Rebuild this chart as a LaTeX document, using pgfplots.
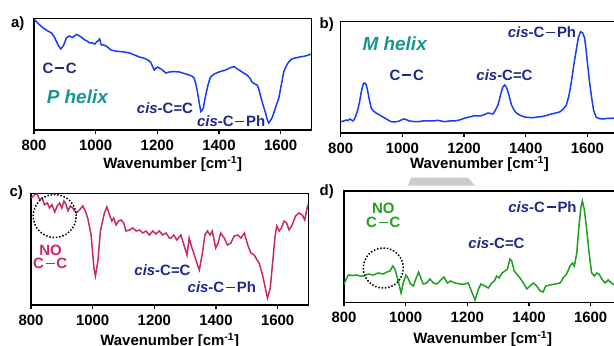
\documentclass[border=0pt]{standalone}
\usepackage{fontspec}
\setmainfont{Liberation Sans}
\usepackage{pgfplots}
\pgfplotsset{compat=1.18}
\definecolor{curveblue}{RGB}{25,60,250}
\definecolor{navy}{RGB}{30,40,140}
\definecolor{tealc}{RGB}{25,150,145}
\definecolor{crim}{RGB}{200,40,105}
\definecolor{grn}{RGB}{30,160,30}
\newcommand\lab{\fontsize{15}{18}\selectfont\bfseries}
\newcommand\bond{\kern0.12em\rule[0.3em]{0.6em}{0.1em}\kern0.12em}
\begin{document}
\begin{tikzpicture}
\pgfplotsset{
  panel/.style={
    scale only axis, anchor=south west, width=277.5bp,
    xmin=800, xmax=1700, xtick={800,1000,1200,1400,1600}, ytick=\empty,
    xtick pos=bottom, tick align=outside, major tick length=4bp,
    axis line style={line width=1.4bp, black},
    tick style={line width=1.2bp, black},
    y filter/.expression={345-y},
    every axis plot/.append style={line width=1.5bp, no markers},
    scaled x ticks=false,
    /pgf/number format/1000 sep={},
    /pgf/number format/assume math mode=true,
    xticklabel style={font=\lab, inner sep=0pt, anchor=north, yshift=-6bp},
    xlabel={Wavenumber [cm\textsuperscript{-1}]},
    xlabel style={font=\lab, inner sep=0pt, anchor=north, at={(axis description cs:0.5,0)}},
  }
}
% a)
\begin{axis}[panel, at={(34bp,215bp)}, height=111.5bp, ymin=215, ymax=326.5,
  xlabel style={yshift=-26bp}]
\addplot[curveblue] coordinates {
(800,19) (815,24) (830,28) (845,31) (857,33) (866,37) (873,41.7) (880,46) (887,49) (895,46)
(905,38) (914,36) (925,37.5) (938,34.5) (948,36) (957,38) (965,40) (972,41) (981,43)
(990,43) (997,44) (1003,42) (1007,41) (1013,39) (1018,45) (1026,45) (1034,46) (1042,48)
(1050,50) (1063,51) (1077,51.5) (1093,52) (1110,53) (1126,55) (1142,57) (1156,58)
(1169,60) (1178,62) (1190,70) (1200,67) (1212,69) (1228,73) (1239,72) (1249,71.7)
(1260,71.7) (1271,72) (1282,73) (1293,74) (1303,75) (1312,76) (1319,78) (1325,84)
(1330,92) (1336,103) (1341,111.5) (1346,110) (1349,108) (1355,98) (1362,88) (1368,81)
(1373,77) (1384,74) (1392,73) (1400,72) (1410,71) (1421,70) (1435,68) (1448,66.5)
(1460,69) (1470,71) (1480,73) (1491,75) (1500,78) (1507,82) (1516,84) (1524,85)
(1529,89) (1534,95) (1542,104) (1551,113) (1556,119) (1561,123) (1566,121) (1572,118)
(1583,108) (1594,98) (1602,85) (1610,72) (1618,66) (1626,62) (1636,59) (1647,58)
(1662,57) (1680,56) (1700,54)};
\end{axis}
% b)
\begin{axis}[panel, at={(340.7bp,212bp)}, height=111.3bp, ymin=212, ymax=323.3,
  xlabel style={yshift=-23bp}]
\addplot[curveblue] coordinates {
(800,121.7) (810,121) (818,120) (824,120.5) (830,119) (840,121) (845,119) (850,115)
(856,109) (861,102) (866,93) (872,85) (876,83) (880,83.3) (884,86) (888,92) (893,100)
(899,108) (906,111) (915,113) (926,115) (937,117) (948,119) (959,121) (967,122)
(975,122) (983,121.5) (991,121) (999,119.5) (1007,119) (1015,120) (1023,121) (1036,121.5)
(1050,121.7) (1066,121) (1083,121) (1099,121) (1115,120.3) (1126,121) (1137,121.7)
(1153,121) (1169,121) (1185,120) (1201,118.3) (1218,117) (1234,115.7) (1245,116)
(1256,115.7) (1267,114.5) (1278,113) (1286,113.5) (1294,114) (1302,110) (1310,105)
(1316,98) (1321,92) (1326,87) (1332,85) (1337,87) (1343,92) (1348,98) (1354,105)
(1362,110) (1370,113) (1383,115.5) (1397,117) (1410,117.5) (1424,117.7) (1438,117)
(1451,116.7) (1467,115.5) (1483,114) (1497,113) (1510,112) (1522,109) (1532,105)
(1540,96) (1548,82) (1556,65) (1565,48) (1571,37) (1578,31.7) (1585,33) (1591,38)
(1596,50) (1601,65) (1607,82) (1614,98) (1620,110) (1628,117) (1638,118.5) (1649,119)
(1662,118.5) (1676,118.3) (1700,118)};
\end{axis}
% c)
\begin{axis}[panel, at={(31bp,40bp)}, height=111.7bp, ymin=40, ymax=151.7,
  xlabel style={yshift=-28bp}]
\addplot[crim] coordinates {
(801,198) (812,194.7) (820,194) (828,199.7) (836,198) (844,204.7) (853,203) (860,208)
(868,204.7) (877,212) (885,206) (893,203) (900,208) (907,201) (914,204.7) (920,210.7)
(928,206) (935,208) (947,213) (958,209.7) (968,206) (976,211) (984,218) (995,235)
(1004,268) (1009,276) (1017,261) (1025,231) (1033,220) (1038,213) (1046,207) (1055,215)
(1062,221) (1068,218) (1076,225) (1084,221) (1092,220) (1101,223) (1108,231) (1119,230)
(1130,228) (1141,231) (1152,230) (1162,233) (1173,231) (1184,235) (1195,231) (1205,234)
(1216,231) (1227,235) (1238,233) (1249,238) (1254,238) (1263,235) (1273,240) (1286,235)
(1297,246) (1306,255) (1313,238) (1320,246) (1330,255) (1340,265) (1346,270) (1356,253)
(1364,235) (1372,231) (1381,235) (1388,231) (1399,248) (1407,243) (1415,233) (1427,238)
(1437,245) (1448,243) (1459,236) (1470,235) (1481,238) (1492,233) (1503,245) (1513,253)
(1524,255) (1533,260) (1540,263) (1551,275) (1562,291) (1567,298) (1576,288) (1583,265)
(1591,238) (1597,226) (1605,231) (1612,228) (1621,221) (1629,223) (1637,230) (1647,225)
(1658,216) (1669,213) (1680,215) (1688,220) (1694,210) (1698,205) (1700,205)};
\end{axis}
% d)
\begin{axis}[panel, at={(344bp,42.7bp)}, height=111.3bp, ymin=42.7, ymax=154,
  xlabel style={yshift=-29bp}]
\addplot[grn] coordinates {
(800,284) (814,275) (827,275.5) (841,275) (852,276) (863,276) (879,274) (895,275)
(911,273) (927,274) (939,272) (949,271) (958,266) (965,269) (976,281) (985,293)
(992,283) (1001,275) (1009,279) (1016,284) (1025,286) (1034,278) (1042,272) (1049,278)
(1057,284) (1068,283) (1079,279) (1090,283) (1101,284) (1111,281) (1124,277) (1135,283)
(1146,281) (1160,283) (1176,284) (1192,284) (1203,283) (1217,294) (1225,300) (1236,289)
(1244,284) (1257,286) (1268,288) (1279,283) (1288,281) (1295,276) (1303,278) (1313,273)
(1322,271) (1330,269) (1338,259) (1344,261) (1352,271) (1360,274) (1371,278) (1382,283)
(1393,289) (1403,286) (1414,283) (1425,286) (1436,291) (1446,292) (1454,286) (1468,285)
(1484,284) (1501,283) (1511,278) (1522,274) (1533,266) (1541,263) (1547,266) (1555,253)
(1562,226) (1569,206) (1573,201) (1579,209) (1587,229) (1595,253) (1603,273) (1612,276)
(1620,273) (1627,274) (1636,279) (1647,283) (1657,280) (1668,283) (1677,285) (1700,285)};
\end{axis}
% annotations
\begin{scope}[x=1bp,y=1bp]
\node[font=\lab] at (17.8,321.2) {a)};
\node[font=\lab] at (326.7,320.8) {b)};
\node[font=\lab] at (16.2,152.5) {c)};
\node[font=\lab] at (326.7,153.7) {d)};
\node[font=\lab, text=navy, inner sep=0pt] at (59.7,276.7) {C\bond C};
\node[font=\fontsize{19}{22}\selectfont\bfseries\itshape, text=tealc, inner sep=0pt] at (77.3,248) {P helix};
\node[font=\lab, text=navy, inner sep=0pt] at (165,237.3) {\textit{cis}-C=C};
\node[font=\lab, text=navy, inner sep=0pt] at (231.2,223.7) {\textit{cis}-C\bond Ph};
\node[font=\fontsize{19}{22}\selectfont\bfseries\itshape, text=tealc, inner sep=0pt] at (394.7,301.2) {M helix};
\node[font=\lab, text=navy, inner sep=0pt] at (406.8,269.7) {C\bond C};
\node[font=\lab, text=navy, inner sep=0pt] at (504.5,270) {\textit{cis}-C=C};
\node[font=\lab, text=navy, inner sep=0pt] at (542,312.8) {\textit{cis}-C\bond Ph};
\node[font=\lab, text=crim, inner sep=0pt] at (50.5,95) {NO};
\node[font=\lab, text=crim, inner sep=0pt] at (50.2,81.2) {C\bond C};
\node[font=\lab, text=navy, inner sep=0pt] at (162.5,74.7) {\textit{cis}-C=C};
\node[font=\lab, text=navy, inner sep=0pt] at (221.8,57.8) {\textit{cis}-C\bond Ph};
\node[font=\lab, text=grn, inner sep=0pt] at (383.3,136.7) {NO};
\node[font=\lab, text=grn, inner sep=0pt] at (383.3,122.3) {C\bond C};
\node[font=\lab, text=navy, inner sep=0pt] at (496.5,101.7) {\textit{cis}-C=C};
\node[font=\lab, text=navy, inner sep=0pt] at (542.5,138) {\textit{cis}-C\bond Ph};
\draw[line width=1.5bp, dash pattern=on 1.5bp off 1.8bp] (54.7,129) circle (21.5);
\draw[line width=1.5bp, dash pattern=on 1.5bp off 1.8bp] (383.3,77) circle (20);
\fill[black!20] (408,159.3) -- (411,167.3) -- (468,167.3) -- (475,159.3) -- cycle;
\pgfresetboundingbox
\path[use as bounding box] (0,0) rectangle (614,345);
\end{scope}
\end{tikzpicture}
\end{document}
